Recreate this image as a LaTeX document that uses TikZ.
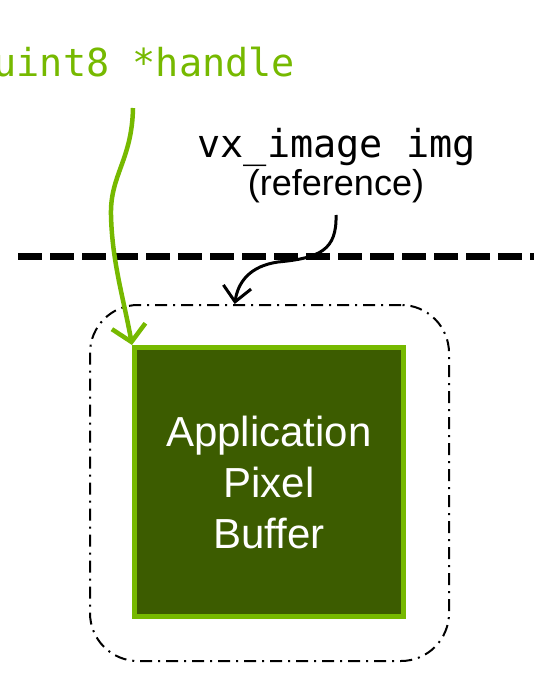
\documentclass[tikz,border=0pt]{standalone}
\usepackage{fontspec}
\setmainfont{Liberation Sans}
\newfontfamily\monofont{DejaVu Sans Mono}
\usetikzlibrary{arrows.meta}
\definecolor{nvgreen}{HTML}{76B900}
\definecolor{darkbuf}{HTML}{3C5C00}
\tikzset{
  monolabel/.style={font=\monofont\fontsize{38.5}{44}\selectfont, inner sep=0pt},
  bufbox/.style={draw=nvgreen, line width=5pt, fill=darkbuf, minimum width=269pt, minimum height=269pt,
     text=white, align=center, font=\fontsize{42}{51}\selectfont, inner sep=0pt},
  outerbox/.style={draw=black, line width=2pt, rounded corners=48pt, minimum width=359pt, minimum height=356pt,
     dash pattern=on 12pt off 6pt on 2pt off 6pt, inner sep=0pt},
  greenarrow/.style={draw=nvgreen, line width=4.5pt, -{Straight Barb[length=16pt,width=34pt,line width=4.5pt]}},
  blackarrow/.style={draw=black, line width=3pt, -{Straight Barb[length=15pt,width=28pt,line width=3pt]}},
  divider/.style={draw=black, line width=7pt, dash pattern=on 24pt off 8pt}
}
\begin{document}
\begin{tikzpicture}[x=1pt,y=-1pt]
\useasboundingbox (0,0) rectangle (533,685);
% divider line
\draw[divider] (18,256) -- (545,256);
% boxes
\node[outerbox] (outer) at (269.5,483) {};
\node[bufbox] (buf) at (269,482) {Application\\Pixel\\Buffer};
% labels
\node[monolabel, text=nvgreen, anchor=base west] (handle) at (-6.6,76) {uint8 *handle};
\node[monolabel, text=black, anchor=base west] (vximg) at (197.4,157) {vx\_image img};
\node[font=\fontsize{36}{40}\selectfont, inner sep=0pt, anchor=base] (ref) at (336,195) {(reference)};
% connector start points
\coordinate (hstart) at (133,108);
\coordinate (rstart) at (336,215);
% arrows
\draw[greenarrow] (hstart) .. controls (132,160) and (110,175) .. (111,215)
   .. controls (112,262) and (124,300) .. (buf.north west);
\draw[blackarrow] (rstart) .. controls (337,250) and (320,258) .. (278,262)
   .. controls (250,266) and (238,282) .. (outer.101);
\end{tikzpicture}
\end{document}
